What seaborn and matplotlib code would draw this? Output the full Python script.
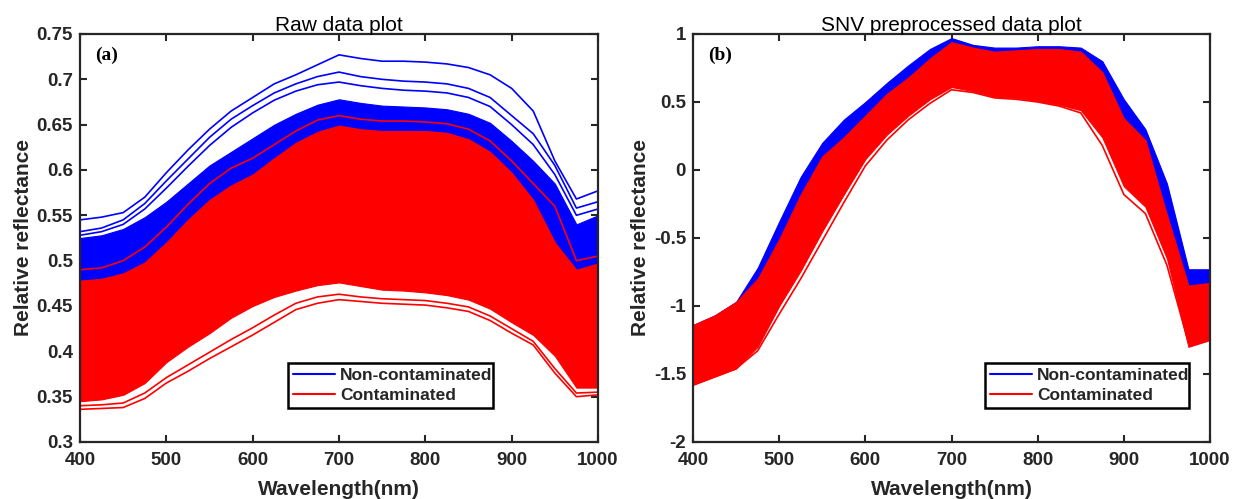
import matplotlib
matplotlib.use("Agg")
import matplotlib.pyplot as plt
import seaborn as sns
import pandas as pd
from matplotlib.lines import Line2D

wavelength = [400, 425, 450, 475, 500, 525, 550, 575, 600, 625, 650, 675, 700,
              725, 750, 775, 800, 825, 850, 875, 900, 925, 950, 975, 1000]

# ---- raw spectra: edges of the dense bundles ----
raw_blue_top = [0.525, 0.528, 0.535, 0.548, 0.565, 0.585, 0.605, 0.620, 0.635, 0.650, 0.662, 0.672, 0.678,
                0.674, 0.671, 0.670, 0.669, 0.667, 0.662, 0.652, 0.632, 0.610, 0.585, 0.540, 0.550]
raw_blue_bottom = [0.470, 0.472, 0.478, 0.490, 0.510, 0.530, 0.550, 0.565, 0.578, 0.590, 0.600, 0.608, 0.612,
                   0.608, 0.605, 0.604, 0.603, 0.600, 0.594, 0.582, 0.562, 0.540, 0.500, 0.470, 0.485]
raw_red_top = [0.478, 0.480, 0.486, 0.498, 0.520, 0.545, 0.567, 0.583, 0.595, 0.613, 0.630, 0.642, 0.649,
               0.645, 0.643, 0.643, 0.643, 0.641, 0.634, 0.620, 0.597, 0.567, 0.520, 0.490, 0.497]
raw_red_bottom = [0.345, 0.347, 0.352, 0.365, 0.388, 0.405, 0.420, 0.437, 0.450, 0.460, 0.467, 0.473, 0.476,
                  0.472, 0.468, 0.467, 0.465, 0.462, 0.457, 0.447, 0.432, 0.418, 0.395, 0.360, 0.360]
# outlying single spectra
raw_blue_max = [0.545, 0.548, 0.553, 0.570, 0.597, 0.622, 0.645, 0.665, 0.680, 0.695, 0.705, 0.716, 0.727,
                0.723, 0.720, 0.720, 0.719, 0.717, 0.713, 0.705, 0.690, 0.665, 0.610, 0.568, 0.577]
raw_blue_hi2 = [0.532, 0.536, 0.545, 0.563, 0.588, 0.612, 0.636, 0.656, 0.671, 0.685, 0.695, 0.703, 0.708,
                0.703, 0.700, 0.698, 0.697, 0.695, 0.690, 0.680, 0.660, 0.640, 0.605, 0.558, 0.565]
raw_blue_hi3 = [0.528, 0.532, 0.540, 0.557, 0.580, 0.604, 0.627, 0.647, 0.663, 0.677, 0.687, 0.694, 0.697,
                0.693, 0.690, 0.688, 0.687, 0.685, 0.680, 0.670, 0.650, 0.628, 0.595, 0.550, 0.557]
raw_red_hi = [0.490, 0.492, 0.500, 0.515, 0.537, 0.562, 0.585, 0.602, 0.613, 0.628, 0.643, 0.655, 0.660,
              0.656, 0.654, 0.654, 0.653, 0.651, 0.645, 0.632, 0.610, 0.585, 0.560, 0.500, 0.505]
raw_red_min = [0.336, 0.337, 0.338, 0.348, 0.365, 0.378, 0.392, 0.405, 0.418, 0.432, 0.446, 0.453, 0.457,
               0.455, 0.453, 0.452, 0.451, 0.448, 0.444, 0.434, 0.420, 0.407, 0.376, 0.350, 0.352]
raw_red_min2 = [0.340, 0.341, 0.343, 0.354, 0.371, 0.385, 0.399, 0.413, 0.426, 0.440, 0.453, 0.460, 0.463,
                0.460, 0.458, 0.457, 0.456, 0.453, 0.449, 0.439, 0.425, 0.411, 0.381, 0.354, 0.355]

# ---- SNV preprocessed spectra ----
snv_blue_top = [-1.14, -1.07, -0.97, -0.72, -0.38, -0.05, 0.20, 0.37, 0.50, 0.64, 0.77, 0.89, 0.97,
                0.92, 0.90, 0.90, 0.91, 0.91, 0.90, 0.80, 0.52, 0.30, -0.10, -0.73, -0.73]
snv_blue_bottom = [-1.30, -1.20, -1.10, -0.95, -0.70, -0.40, -0.10, 0.10, 0.30, 0.45, 0.60, 0.72, 0.80,
                   0.80, 0.80, 0.80, 0.80, 0.80, 0.78, 0.60, 0.30, 0.10, -0.40, -0.92, -0.93]
snv_red_top = [-1.14, -1.07, -0.97, -0.80, -0.51, -0.18, 0.10, 0.24, 0.40, 0.56, 0.68, 0.82, 0.94,
               0.90, 0.87, 0.88, 0.89, 0.89, 0.87, 0.72, 0.38, 0.22, -0.33, -0.85, -0.83]
snv_red_bottom = [-1.58, -1.52, -1.46, -1.30, -1.00, -0.74, -0.45, -0.18, 0.08, 0.26, 0.40, 0.52, 0.61,
                  0.58, 0.54, 0.53, 0.51, 0.48, 0.44, 0.24, -0.12, -0.27, -0.65, -1.30, -1.25]
snv_red_min = [-1.58, -1.52, -1.46, -1.33, -1.06, -0.80, -0.52, -0.24, 0.03, 0.22, 0.37, 0.49, 0.59,
               0.57, 0.53, 0.52, 0.50, 0.47, 0.42, 0.18, -0.18, -0.32, -0.70, -1.27, -1.25]

BLUE = "#0000ff"
RED = "#ff0000"
INK = "#262626"

sns.set_style("ticks")
plt.rcParams["font.family"] = ["Liberation Sans", "DejaVu Sans"]


def curves_frame(named):
    rows = []
    for name, vals in named.items():
        for w, v in zip(wavelength, vals):
            rows.append({"wl": w, "val": v, "curve": name})
    return pd.DataFrame(rows)


def style_axes(ax, title, tag, ylim, yticks, leg_x):
    ax.set_xlim(400, 1000)
    ax.set_ylim(*ylim)
    ax.set_xticks(range(400, 1001, 100))
    ax.set_yticks(yticks)
    ax.set_yticklabels([f"{t:g}" for t in yticks])
    ax.tick_params(direction="in", top=True, right=True, length=5, width=1.5,
                   colors=INK, labelsize=13.5)
    ax.tick_params(axis="x", pad=7)
    ax.tick_params(axis="y", pad=5)
    for lab in ax.get_xticklabels() + ax.get_yticklabels():
        lab.set_fontweight("bold")
    for sp in ax.spines.values():
        sp.set_visible(True)
        sp.set_linewidth(1.6)
        sp.set_color(INK)
    ax.set_title(title, fontsize=15, color="black", pad=2)
    ax.set_xlabel("Wavelength(nm)", fontsize=15, fontweight="bold", color=INK, labelpad=8)
    ax.set_ylabel("Relative reflectance", fontsize=15, fontweight="bold", color=INK, labelpad=3)
    ax.text(0.03, 0.97, tag, transform=ax.transAxes, ha="left", va="top",
            fontsize=14, fontweight="bold", family="Liberation Serif", color="black")
    handles = [Line2D([], [], color=BLUE, lw=1.5), Line2D([], [], color=RED, lw=1.5)]
    leg = ax.legend(handles, ["Non-contaminated", "Contaminated"], loc="lower left",
                    bbox_to_anchor=(leg_x, 0.083, 0.395, 0.116), mode="expand",
                    prop={"weight": "bold", "size": 12.5}, frameon=True, fancybox=False,
                    framealpha=1, edgecolor="black", handlelength=2.4, handletextpad=0.3,
                    borderpad=0.3, labelspacing=0.25, borderaxespad=0)
    leg.get_frame().set_linewidth(1.8)


fig = plt.figure(figsize=(12.38, 4.99), dpi=100)
ax1 = fig.add_axes([80 / 1238, (499 - 442) / 499, 518 / 1238, 408 / 499])
ax2 = fig.add_axes([693 / 1238, (499 - 442) / 499, 517 / 1238, 408 / 499])

# panel (a)
ax1.fill_between(wavelength, raw_blue_bottom, raw_blue_top, color=BLUE, lw=0.8, edgecolor=BLUE)
raw_blue_df = curves_frame({"b1": raw_blue_max, "b2": raw_blue_hi2, "b3": raw_blue_hi3})
sns.lineplot(data=raw_blue_df, x="wl", y="val", units="curve", estimator=None, color=BLUE,
             lw=1.2, ax=ax1, legend=False)
ax1.fill_between(wavelength, raw_red_bottom, raw_red_top, color=RED, lw=0.8, edgecolor=RED)
raw_red_df = curves_frame({"r1": raw_red_hi, "r2": raw_red_min, "r3": raw_red_min2})
sns.lineplot(data=raw_red_df, x="wl", y="val", units="curve", estimator=None, color=RED,
             lw=1.2, ax=ax1, legend=False)
style_axes(ax1, "Raw data plot", "(a)", (0.3, 0.75),
           [0.3, 0.35, 0.4, 0.45, 0.5, 0.55, 0.6, 0.65, 0.7, 0.75], 0.402)

# panel (b)
ax2.fill_between(wavelength, snv_blue_bottom, snv_blue_top, color=BLUE, lw=0.8, edgecolor=BLUE)
ax2.fill_between(wavelength, snv_red_bottom, snv_red_top, color=RED, lw=0.8, edgecolor=RED)
snv_red_df = curves_frame({"r1": snv_red_min})
sns.lineplot(data=snv_red_df, x="wl", y="val", units="curve", estimator=None, color=RED,
             lw=1.2, ax=ax2, legend=False)
style_axes(ax2, "SNV preprocessed data plot", "(b)", (-2, 1),
           [-2, -1.5, -1, -0.5, 0, 0.5, 1], 0.565)

fig.savefig("out.png", dpi=100)
